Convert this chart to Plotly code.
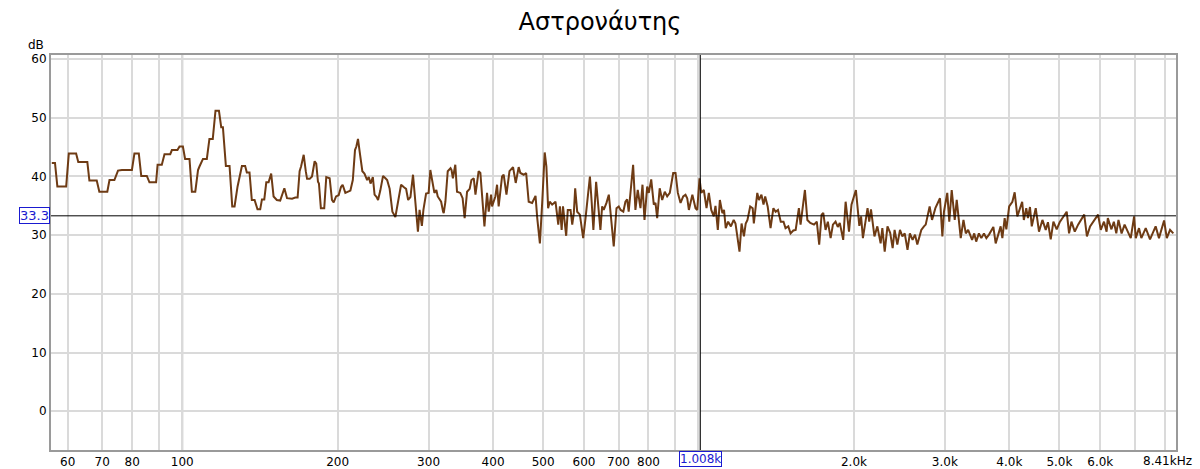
import math
import plotly.graph_objects as go

title_text = "Αστρονάυτης"

freq_hz = [
    55.9, 56.7, 57.3, 59.6, 60.3, 62.3, 62.9, 65.5, 66.1, 68.3, 69.1, 71.6, 72.3, 73.9, 75.1, 76.4,
    79.9, 80.8, 82.4, 83.3, 85.4, 86.4, 89.0, 89.6, 91.3, 92.4, 94.8, 95.5, 97.9, 98.8, 100.3, 101.3,
    103.3, 104.4, 106.0, 107.3, 108.0, 109.7, 111.6, 112.9, 114.6, 116.0, 117.8, 119.0, 119.9, 121.5,
    123.5, 125.0, 126.3, 128.0, 130.5, 132.4, 133.4, 135.0, 136.4, 138.1, 139.9, 141.6, 142.7, 144.2,
    145.5, 147.0, 148.7, 150.3, 152.5, 154.8, 157.7, 159.6, 163.2, 165.6, 167.3, 168.8, 169.9, 171.9,
    173.5, 174.5, 176.6, 178.4, 180.5, 181.8, 183.2, 184.0, 185.6, 188.4, 190.1, 193.0, 195.0, 196.5,
    198.6, 200.9, 203.0, 204.5, 207.0, 209.2, 211.7, 214.0, 216.1, 217.4, 219.0, 220.6, 223.3, 225.4,
    228.1, 229.8, 231.6, 234.0, 235.8, 238.0, 239.5, 241.9, 244.9, 247.5, 249.4, 252.2, 255.3, 258.7,
    262.6, 265.4, 268.5, 271.4, 273.9, 276.7, 279.9, 281.9, 286.1, 288.2, 291.2, 293.2, 296.7, 300.1,
    302.4, 307.9, 310.6, 312.5, 317.3, 320.1, 321.0, 323.4, 326.8, 330.9, 332.4, 334.4, 338.0, 340.6,
    345.6, 349.2, 352.4, 356.2, 360.4, 363.2, 367.0, 369.8, 375.1, 378.0, 381.0, 384.9, 389.4, 392.3,
    396.5, 398.2, 404.1, 407.2, 410.1, 416.4, 419.4, 424.6, 430.4, 437.3, 442.5, 448.4, 451.8, 458.6,
    463.6, 468.9, 476.1, 483.4, 487.1, 492.9, 498.3, 503.6, 507.4, 511.3, 515.0, 520.6, 528.4, 535.0,
    538.9, 543.1, 546.4, 550.0, 554.2, 558.2, 565.1, 569.4, 573.5, 576.9, 582.1, 589.1, 593.6, 597.9,
    604.2, 608.9, 616.1, 620.9, 625.7, 633.4, 639.1, 645.6, 650.6, 655.3, 663.3, 670.3, 675.2, 685.2,
    693.6, 700.6, 706.6, 715.1, 721.8, 727.4, 732.4, 747.0, 754.7, 762.6, 771.9, 778.9, 785.9, 795.4,
    801.1, 809.8, 819.2, 825.4, 831.6, 841.0, 850.4, 860.3, 869.6, 879.8, 893.2, 902.5, 911.9, 923.0,
    934.0, 943.6, 950.9, 957.9, 972.9, 986.7, 994.2, 1004.5, 1012.1, 1023.9, 1036.3, 1047.0, 1058.4,
    1070.4, 1078.6, 1089.9, 1099.9, 1112.2, 1120.4, 1129.1, 1141.1, 1155.4, 1169.8, 1179.2, 1200.5,
    1211.6, 1224.6, 1234.3, 1244.0, 1259.1, 1273.2, 1279.8, 1299.6, 1309.3, 1323.9, 1336.2, 1346.2,
    1361.2, 1378.9, 1396.4, 1410.4, 1425.3, 1443.0, 1460.9, 1474.1, 1492.4, 1507.6, 1526.3, 1542.2,
    1564.6, 1576.3, 1607.2, 1624.7, 1646.0, 1673.6, 1694.7, 1712.8, 1731.4, 1744.3, 1762.1, 1780.3,
    1802.4, 1821.1, 1842.4, 1861.0, 1877.5, 1906.5, 1927.1, 1956.4, 1978.1, 2017.6, 2048.6, 2064.7,
    2081.7, 2125.2, 2141.1, 2158.0, 2191.4, 2220.0, 2252.6, 2270.0, 2294.1, 2322.6, 2350.6, 2376.8,
    2397.6, 2426.9, 2455.8, 2482.2, 2508.4, 2539.6, 2566.5, 2597.9, 2626.2, 2653.0, 2700.8, 2733.1,
    2754.4, 2803.1, 2833.2, 2875.6, 2935.2, 2966.7, 2988.0, 3032.3, 3059.7, 3093.0, 3135.0, 3162.9,
    3220.1, 3259.5, 3293.4, 3328.0, 3354.7, 3387.6, 3420.3, 3449.6, 3492.0, 3529.7, 3571.4, 3610.0,
    3652.6, 3724.4, 3762.9, 3847.6, 3876.9, 3917.0, 3946.5, 3996.4, 4053.8, 4095.6, 4144.5, 4176.0,
    4235.0, 4266.4, 4313.0, 4345.0, 4385.0, 4420.0, 4499.0, 4565.0, 4635.0, 4704.0, 4751.0, 4810.0,
    4868.0, 4940.0, 5006.0, 5165.5, 5220.0, 5276.0, 5355.0, 5435.0, 5585.0, 5653.0, 5733.0, 5941.0,
    6013.0, 6100.0, 6171.0, 6205.0, 6306.0, 6374.0, 6444.0, 6507.0, 6598.0, 6687.0, 6873.0, 6977.0,
    7028.0, 7131.0, 7206.0, 7348.0, 7490.0, 7680.0, 7795.0, 7975.0, 8072.0, 8190.0, 8310.0,
]

level_db = [
    42.3, 42.3, 38.3, 38.3, 43.9, 43.9, 42.45, 42.45, 39.3, 39.3, 37.4, 37.4, 39.4, 39.4, 41.0, 41.1,
    41.1, 43.9, 43.9, 40.1, 40.1, 39.0, 39.0, 42.0, 42.0, 43.8, 43.8, 44.5, 44.5, 45.1, 45.1, 43.0,
    43.0, 37.4, 37.4, 41.1, 41.7, 43.0, 43.0, 46.4, 46.4, 51.2, 51.2, 48.4, 48.4, 41.8,
    41.8, 34.9, 34.9, 38.3, 41.8, 41.8, 40.7, 40.7, 36.0, 36.0, 34.4, 34.4, 36.1, 36.1,
    39.0, 39.0, 40.5, 36.6, 36.0, 35.9, 38.0, 36.3, 36.2, 36.4, 36.4, 40.9, 41.7, 43.7,
    40.9, 39.6, 39.6, 40.0, 42.6, 42.2, 39.1, 38.8, 34.6, 34.6, 39.9, 39.7, 36.0, 35.6,
    36.6, 36.8, 38.2, 38.6, 37.2, 37.4, 37.6, 39.4, 44.5, 45.1, 46.4, 44.3, 40.9, 40.5,
    39.4, 39.9, 38.8, 39.9, 36.9, 36.5, 36.0, 37.6, 40.1, 39.7, 39.4, 37.9, 34.0, 33.1,
    36.6, 38.6, 38.2, 37.9, 36.0, 36.5, 40.3, 37.4, 30.6, 34.3, 31.6, 34.3, 37.1, 37.2,
    41.1, 37.2, 37.7, 36.6, 35.7, 34.0, 33.75, 35.7, 40.9, 41.4, 41.1, 39.7, 42.0, 37.4,
    37.2, 36.3, 32.9, 37.4, 37.9, 39.4, 39.7, 36.9, 40.9, 40.6, 36.6, 31.5, 37.2, 34.0,
    36.9, 34.9, 36.6, 38.6, 34.9, 40.0, 40.3, 36.9, 40.9, 41.6, 38.9, 41.6, 40.6, 40.3,
    40.6, 35.7, 35.5, 36.7, 32.9, 28.6, 36.0, 44.1, 41.7, 34.6, 35.7, 35.2, 35.7, 31.8,
    34.9, 30.9, 34.9, 32.1, 29.9, 34.3, 34.3, 31.8, 33.8, 38.0, 34.0, 33.5, 30.9, 29.5,
    32.9, 35.5, 40.0, 35.7, 30.9, 39.1, 35.2, 30.9, 34.9, 34.3, 35.5, 36.9, 34.0, 28.1,
    34.6, 34.9, 34.3, 34.0, 35.7, 36.1, 34.0, 42.0, 34.3, 37.7, 34.6, 38.6, 32.6, 38.3,
    37.2, 39.5, 35.2, 35.5, 32.9, 38.0, 36.0, 37.4, 36.6, 37.2, 40.6, 40.6, 37.2, 35.5,
    36.6, 36.9, 36.3, 34.3, 36.9, 34.6, 34.3, 39.7, 37.2, 37.7, 34.6, 37.2, 34.3,
    33.2, 35.0, 30.9, 36.0, 33.75, 34.3, 31.2, 32.3, 31.5, 32.6, 32.0, 27.2,
    32.0, 29.8, 32.0, 32.6, 34.9, 34.6, 32.0, 37.2, 36.0, 36.9, 35.2, 36.6,
    34.9, 31.2, 34.6, 34.0, 34.3, 32.3, 32.3, 31.2, 31.5, 30.3, 30.8, 30.9,
    34.6, 31.8, 37.7, 32.6, 32.1, 31.8, 32.3, 28.4, 33.5, 33.8, 30.9, 32.3,
    29.5, 31.8, 32.3, 31.4, 32.1, 29.2, 35.7, 30.6, 35.2, 37.7, 31.6, 33.2,
    29.5, 34.6, 32.3, 34.4, 29.8, 31.5, 28.6, 31.2, 27.2, 31.5, 30.4, 27.8,
    30.9, 28.4, 30.9, 29.8, 30.3, 27.5, 30.3, 29.2, 30.1, 28.4, 30.9, 31.5,
    31.8, 34.9, 32.6, 34.6, 36.3, 29.8, 34.0, 37.2, 32.3, 37.7, 32.6, 36.0,
    29.5, 32.6, 30.3, 30.9, 30.1, 29.2, 30.3, 28.9, 30.3, 29.5, 30.3, 29.5,
    30.1, 31.4, 28.6, 31.5, 29.5, 32.9, 31.0, 34.9, 35.7, 37.3, 33.2, 34.0,
    35.7, 32.6, 34.6, 32.9, 34.8, 31.5, 34.6, 30.6, 32.6, 30.9, 32.2, 29.3,
    32.3, 31.0, 32.2, 34.0, 30.3, 32.3, 30.6, 31.8, 33.5, 29.8, 31.5, 33.5,
    30.9, 32.3, 30.6, 32.9, 31.0, 32.3, 30.3, 32.6, 30.3, 31.8, 29.5, 33.2,
    29.5, 31.2, 29.5, 31.2, 29.3, 31.5, 29.5, 32.5, 29.5, 30.9, 30.3,
]

grid_freqs = [60, 70, 80, 90, 100, 200, 300, 400, 500, 600, 700, 800, 900,
              1000, 2000, 3000, 4000, 5000, 6000, 7000, 8000]
grid_labels = ["60", "70", "80", "", "100", "200", "300", "400", "500", "600", "700", "800", "",
               "", "2.0k", "3.0k", "4.0k", "5.0k", "6.0k", "", ""]
decade_freqs = [100, 1000]
y_ticks = [0, 10, 20, 30, 40, 50, 60]

x_min, x_max = 55.7, 8410.0
y_min, y_max = -6.6, 60.7
cursor_freq = 1008.0
cursor_db = 33.3
cursor_freq_label = "1.008k"
cursor_db_label = "33.3"
end_label = "8.41kHz"

FONT = "Lucida Grande, DejaVu Sans, sans-serif"
BLUE = "#1a1ad0"

fig = go.Figure()
fig.add_trace(go.Scatter(
    x=freq_hz, y=level_db, mode="lines",
    line=dict(color="#6e3b14", width=2), hoverinfo="skip", showlegend=False,
))

shapes = []
for f in decade_freqs:
    shapes.append(dict(type="line", xref="x", yref="y domain", x0=f, x1=f, y0=0, y1=1,
                       line=dict(color="#b0b0b0", width=2), layer="below"))
shapes.append(dict(type="line", xref="x", yref="y domain", x0=cursor_freq, x1=cursor_freq,
                   y0=0, y1=1, line=dict(color="black", width=1)))
shapes.append(dict(type="line", xref="x domain", yref="y", x0=0, x1=1, y0=cursor_db, y1=cursor_db,
                   line=dict(color="black", width=1)))

annotations = [
    dict(text=cursor_db_label, xref="paper", x=0, xanchor="right", xshift=-1,
         yref="y", y=cursor_db, yanchor="middle", showarrow=False,
         font=dict(family=FONT, size=13, color=BLUE), bordercolor=BLUE, borderwidth=1,
         borderpad=0, bgcolor="white"),
    dict(text=cursor_freq_label, xref="x", x=math.log10(cursor_freq), xanchor="center",
         yref="paper", y=0, yanchor="top", yshift=-1, showarrow=False,
         font=dict(family=FONT, size=12, color=BLUE), bordercolor=BLUE, borderwidth=1,
         borderpad=0, bgcolor="white"),
    dict(text=end_label, xref="paper", x=1, xanchor="right", xshift=18,
         yref="paper", y=0, yanchor="top", yshift=-2, showarrow=False,
         font=dict(family=FONT, size=12, color="black")),
    dict(text="dB", xref="paper", x=0, xanchor="right", xshift=-5,
         yref="paper", y=1, yanchor="bottom", yshift=1, showarrow=False,
         font=dict(family=FONT, size=12, color="black")),
]

fig.update_layout(
    width=1200, height=469,
    margin=dict(l=51, r=24, t=55, b=19, autoexpand=False),
    paper_bgcolor="white", plot_bgcolor="white",
    title=dict(text=title_text, x=0.5, xanchor="center", y=0.953, yanchor="middle",
               font=dict(family=FONT, size=24, color="black")),
    shapes=shapes, annotations=annotations,
    xaxis=dict(type="log", range=[math.log10(x_min), math.log10(x_max)],
               tickmode="array", tickvals=grid_freqs, ticktext=grid_labels,
               showgrid=True, gridcolor="#dadada", gridwidth=2,
               showline=True, linecolor="#9a9a9a", linewidth=2, mirror=True,
               ticks="", tickfont=dict(family=FONT, size=12, color="black"),
               zeroline=False, fixedrange=True),
    yaxis=dict(range=[y_min, y_max], tickmode="array", tickvals=y_ticks,
               showgrid=True, gridcolor="#dadada", gridwidth=2,
               showline=True, linecolor="#9a9a9a", linewidth=2, mirror=True,
               ticks="", tickfont=dict(family=FONT, size=12, color="black"),
               zeroline=False, fixedrange=True),
)

fig.write_html("out.html", config={"displayModeBar": False},
               post_script="document.body.style.margin='0';")
